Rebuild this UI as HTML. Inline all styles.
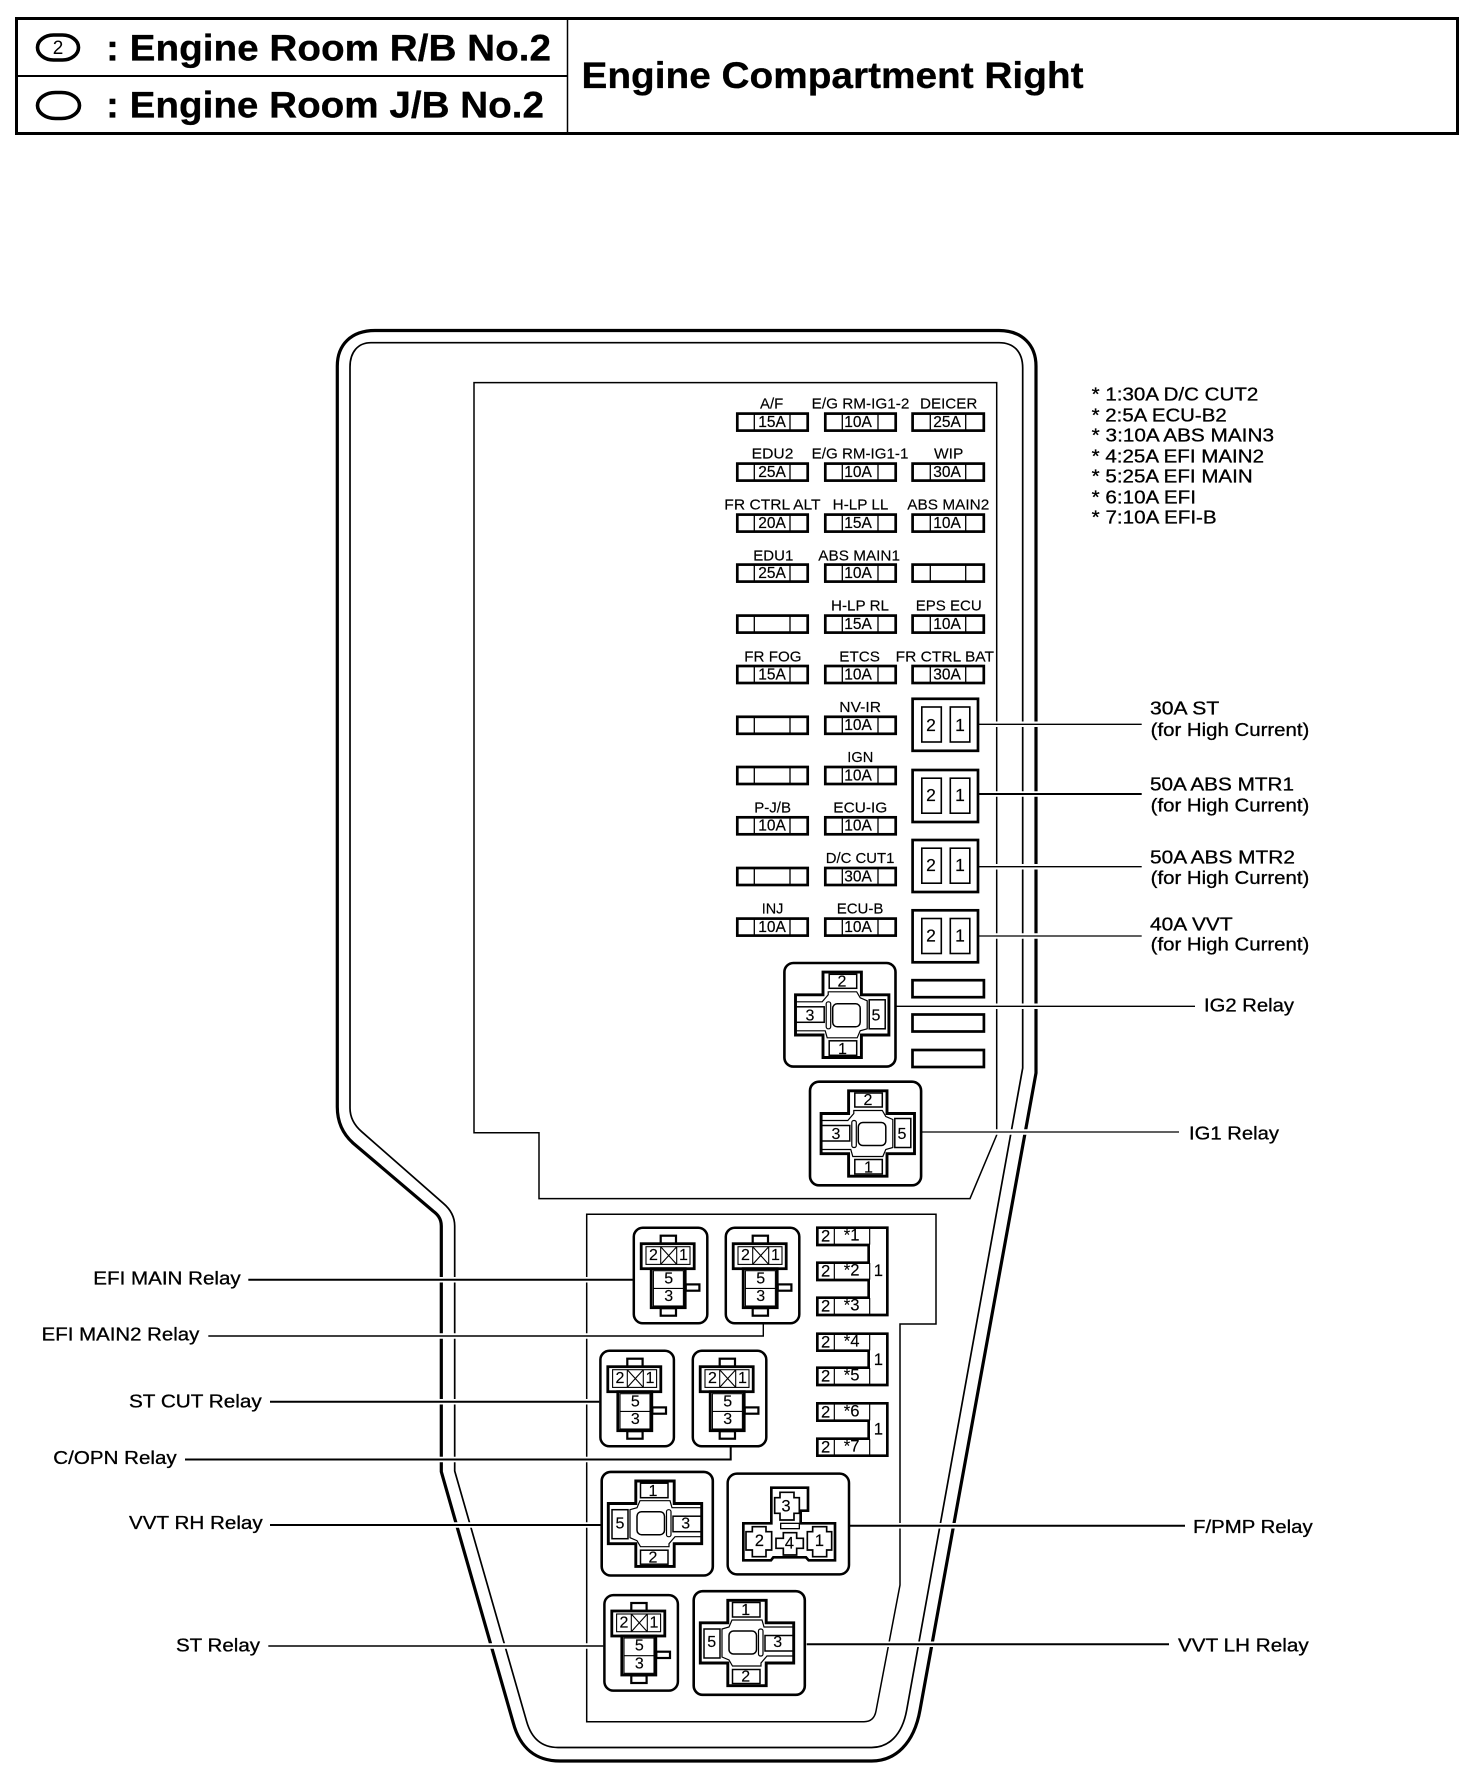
<!DOCTYPE html>
<html>
<head>
<meta charset="utf-8">
<style>
html,body{margin:0;padding:0;background:#fff}
svg{display:block}
text{font-family:"Liberation Sans",sans-serif;fill:#000}
.l{font-size:15px;stroke:#000;stroke-width:.15}
.v{font-size:15.5px;text-anchor:middle;stroke:#000;stroke-width:.2}
.d{font-size:16px;text-anchor:middle;stroke:#000;stroke-width:.15}
.e{font-size:17.5px;text-anchor:middle;stroke:#000;stroke-width:.15}
.b{font-size:18.5px;stroke:#000;stroke-width:.3}
.h{font-size:37.5px;font-weight:bold;stroke:#000;stroke-width:.3}
.z{font-size:50px;text-anchor:middle;stroke:#000;stroke-width:.4}
.s{fill:none;stroke:#000}
.w{fill:#fff;stroke:#000}
</style>
</head>
<body>
<svg width="1472" height="1782" viewBox="0 0 1472 1782" xmlns="http://www.w3.org/2000/svg">
<defs>
<g id="f">
<rect class="w" x="1.3" y="1.3" width="70.4" height="17" stroke-width="2.7"/>
<path class="s" d="M18.3 1V18.5M54 1V18.5" stroke-width="1.3"/>
</g>
<g id="f3">
<rect class="w" x="1.3" y="1.3" width="71.2" height="17" stroke-width="2.7"/>
<path class="s" d="M19 1V18.5M54.4 1V18.5" stroke-width="1.3"/>
</g>
<g id="hc">
<rect class="w" x="1.3" y="1.3" width="65.4" height="52" stroke-width="2.7"/>
<rect class="w" x="10.5" y="9.5" width="19.5" height="35" stroke-width="1.6"/>
<rect class="w" x="39" y="9.5" width="19.5" height="35" stroke-width="1.6"/>
</g>
<g id="sr">
<rect class="w" x="1.1" y="1.1" width="73.5" height="95.5" rx="9" stroke-width="2.5"/>
<rect class="w" x="28" y="9" width="15.3" height="8" stroke-width="2.2"/>
<rect class="w" x="28" y="81.5" width="15.3" height="7.5" stroke-width="2.2"/>
<rect class="w" x="53" y="57.7" width="13.7" height="6.3" stroke-width="2.2"/>
<rect class="w" x="8.5" y="17" width="53" height="25" stroke-width="2.8"/>
<rect class="w" x="18.5" y="42" width="34" height="39" stroke-width="2.8"/>
<rect class="w" x="13.3" y="20" width="44" height="17.7" stroke-width="1.1"/>
<path class="s" d="M28 20V37.7M44 20V37.7M28 20L44 37.7M44 20L28 37.7" stroke-width="1.1"/>
<rect class="w" x="20.7" y="44" width="30" height="35.3" stroke-width="1.1"/>
<path class="s" d="M20.7 61.7H50.7" stroke-width="1.1"/>
</g>
<g id="cr">
<rect class="w" x="-57.8" y="-51.8" width="111.1" height="103.6" rx="9" stroke-width="2.6"/>
<path class="w" d="M-19.2 -42.7H19.2V-20H46.7V20.2H19.2V42.7H-19.2V20.2H-46.7V-20H-19.2Z" stroke-width="2.9"/>
<path class="s" d="M-46 -13H-20L-14 -20V-23H14.5L18 -17L25 -14V14L18 16L15 23H-15L-17 16H-46" stroke-width="1.2"/>
<rect class="w" x="-13" y="-40.5" width="27.5" height="14" stroke-width="1.5"/>
<rect class="w" x="-13" y="26" width="27.5" height="14.5" stroke-width="1.5"/>
<rect class="w" x="-46" y="-8" width="28" height="15.5" stroke-width="1.5"/>
<rect class="w" x="27" y="-15" width="16" height="29" stroke-width="1.5"/>
<rect class="w" x="-16" y="-13" width="4.5" height="27" rx="2" stroke-width="1.2"/>
<rect class="w" x="-9.5" y="-11" width="27.5" height="23" rx="4.5" stroke-width="1.5"/>
</g>
</defs>

<!-- header -->
<rect x="16.5" y="18.5" width="1441" height="115" fill="none" stroke="#000" stroke-width="3"/>
<path d="M16 76H568" stroke="#000" stroke-width="2"/>
<path d="M567.5 19V133" stroke="#000" stroke-width="1.5"/>
<rect x="37.5" y="35" width="41" height="25" rx="16" ry="12.5" fill="none" stroke="#000" stroke-width="3.6"/>
<text x="58" y="54" font-size="19" text-anchor="middle">2</text>
<rect x="37.5" y="92.5" width="42" height="26" rx="18" ry="13" fill="none" stroke="#000" stroke-width="3.6"/>
<text class="h" x="106" y="60.5" textLength="445" lengthAdjust="spacingAndGlyphs">: Engine Room R/B No.2</text>
<text class="h" x="106" y="117.5" textLength="438" lengthAdjust="spacingAndGlyphs">: Engine Room J/B No.2</text>
<text class="h" x="581.5" y="88" textLength="502" lengthAdjust="spacingAndGlyphs">Engine Compartment Right</text>

<!-- chassis -->
<path class="s" stroke-width="3.2" d="M375 330.5H999C1022 330.5 1036 345 1036 366V1073L920 1710C914 1744 895 1761 871.7 1761H560C536 1761 520 1748 513.3 1723L441.3 1471.7V1226C441.3 1218 437 1214 433 1211L353 1143C343 1134 337.3 1122 337.3 1107V366C337.3 345 351 330.5 375 330.5Z"/>
<path class="s" stroke-width="1.7" d="M371 342.7H999C1014 342.7 1022.7 352 1022.7 368V1068L906.7 1710C902 1736 888 1747.5 871.7 1747.5H558C543 1747.5 532 1740 526.7 1721.7L454.7 1471V1226C454.7 1216 450 1209 443.3 1203.3L361.7 1131.7C354 1125 350 1117 350 1108V367C350 352 358 342.7 371 342.7Z"/>
<path class="s" stroke-width="1.5" d="M474 382.6H996.7V1135L970 1198.6H539V1132.7H474Z"/>
<path class="s" stroke-width="1.5" d="M586.7 1214.3H936V1324H900V1585L876 1711Q874 1721.7 864 1721.7H586.7Z"/>

<!-- fuses column 1 -->
<use href="#f" x="736" y="412.3"/><use href="#f" x="736" y="462.3"/><use href="#f" x="736" y="513.3"/><use href="#f" x="736" y="563.3"/><use href="#f" x="736" y="614.3"/><use href="#f" x="736" y="664.7"/><use href="#f" x="736" y="715.5"/><use href="#f" x="736" y="765.7"/><use href="#f" x="736" y="816"/><use href="#f" x="736" y="866.7"/><use href="#f" x="736" y="917.3"/>
<!-- fuses column 2 -->
<use href="#f" x="824" y="412.3"/><use href="#f" x="824" y="462.3"/><use href="#f" x="824" y="513.3"/><use href="#f" x="824" y="563.3"/><use href="#f" x="824" y="614.3"/><use href="#f" x="824" y="664.7"/><use href="#f" x="824" y="715.5"/><use href="#f" x="824" y="765.7"/><use href="#f" x="824" y="816"/><use href="#f" x="824" y="866.7"/><use href="#f" x="824" y="917.3"/>
<!-- fuses column 3 -->
<use href="#f3" x="911.3" y="412.3"/><use href="#f3" x="911.3" y="462.3"/><use href="#f3" x="911.3" y="513.3"/><use href="#f3" x="911.3" y="563.3"/><use href="#f3" x="911.3" y="614.3"/><use href="#f3" x="911.3" y="664.7"/>

<!-- fuse values -->
<text class="v" x="772" y="427">15A</text><text class="v" x="858" y="427">10A</text><text class="v" x="947" y="427">25A</text>
<text class="v" x="772" y="477">25A</text><text class="v" x="858" y="477">10A</text><text class="v" x="947" y="477">30A</text>
<text class="v" x="772" y="528">20A</text><text class="v" x="858" y="528">15A</text><text class="v" x="947" y="528">10A</text>
<text class="v" x="772" y="578">25A</text><text class="v" x="858" y="578">10A</text>
<text class="v" x="858" y="629">15A</text><text class="v" x="947" y="629">10A</text>
<text class="v" x="772" y="679.4">15A</text><text class="v" x="858" y="679.4">10A</text><text class="v" x="947" y="679.4">30A</text>
<text class="v" x="858" y="730.2">10A</text>
<text class="v" x="858" y="780.4">10A</text>
<text class="v" x="772" y="830.7">10A</text><text class="v" x="858" y="830.7">10A</text>
<text class="v" x="858" y="881.4">30A</text>
<text class="v" x="772" y="932">10A</text><text class="v" x="858" y="932">10A</text>

<!-- fuse labels -->
<text class="l" x="760" y="408.5" textLength="23.3" lengthAdjust="spacingAndGlyphs">A/F</text>
<text class="l" x="811.7" y="408.5" textLength="97.7" lengthAdjust="spacingAndGlyphs">E/G RM-IG1-2</text>
<text class="l" x="920" y="408.5" textLength="57.3" lengthAdjust="spacingAndGlyphs">DEICER</text>
<text class="l" x="751.7" y="458.5" textLength="41.7" lengthAdjust="spacingAndGlyphs">EDU2</text>
<text class="l" x="811.7" y="458.5" textLength="96.7" lengthAdjust="spacingAndGlyphs">E/G RM-IG1-1</text>
<text class="l" x="934" y="458.5" textLength="29.3" lengthAdjust="spacingAndGlyphs">WIP</text>
<text class="l" x="724.3" y="509.5" textLength="96.3" lengthAdjust="spacingAndGlyphs">FR CTRL ALT</text>
<text class="l" x="832.7" y="509.5" textLength="55.7" lengthAdjust="spacingAndGlyphs">H-LP LL</text>
<text class="l" x="907.3" y="509.5" textLength="82" lengthAdjust="spacingAndGlyphs">ABS MAIN2</text>
<text class="l" x="753.3" y="560.5" textLength="40" lengthAdjust="spacingAndGlyphs">EDU1</text>
<text class="l" x="818.3" y="560.5" textLength="81.7" lengthAdjust="spacingAndGlyphs">ABS MAIN1</text>
<text class="l" x="831" y="610.5" textLength="58" lengthAdjust="spacingAndGlyphs">H-LP RL</text>
<text class="l" x="915.7" y="610.5" textLength="66" lengthAdjust="spacingAndGlyphs">EPS ECU</text>
<text class="l" x="744.3" y="661.5" textLength="57.3" lengthAdjust="spacingAndGlyphs">FR FOG</text>
<text class="l" x="839.3" y="661.5" textLength="40.7" lengthAdjust="spacingAndGlyphs">ETCS</text>
<text class="l" x="895.7" y="661.5" textLength="98.3" lengthAdjust="spacingAndGlyphs">FR CTRL BAT</text>
<text class="l" x="839.3" y="712" textLength="41.7" lengthAdjust="spacingAndGlyphs">NV-IR</text>
<text class="l" x="847.3" y="762.2" textLength="26" lengthAdjust="spacingAndGlyphs">IGN</text>
<text class="l" x="754.3" y="812.5" textLength="36.7" lengthAdjust="spacingAndGlyphs">P-J/B</text>
<text class="l" x="833.3" y="812.5" textLength="54" lengthAdjust="spacingAndGlyphs">ECU-IG</text>
<text class="l" x="825.7" y="863" textLength="68.7" lengthAdjust="spacingAndGlyphs">D/C CUT1</text>
<text class="l" x="761.7" y="913.5" textLength="21.7" lengthAdjust="spacingAndGlyphs">INJ</text>
<text class="l" x="836.7" y="913.5" textLength="46.7" lengthAdjust="spacingAndGlyphs">ECU-B</text>

<!-- high current -->
<use href="#hc" x="911.3" y="697.5"/><use href="#hc" x="911.3" y="768.7"/><use href="#hc" x="911.3" y="838.7"/><use href="#hc" x="911.3" y="909"/>
<text class="e" x="931" y="731">2</text><text class="e" x="960" y="731">1</text>
<text class="e" x="931" y="801">2</text><text class="e" x="960" y="801">1</text>
<text class="e" x="931" y="871">2</text><text class="e" x="960" y="871">1</text>
<text class="e" x="931" y="941.5">2</text><text class="e" x="960" y="941.5">1</text>

<!-- empty slots -->
<rect class="w" x="912.5" y="980.2" width="71.4" height="17" stroke-width="2.7"/>
<rect class="w" x="912.5" y="1014.5" width="71.4" height="17" stroke-width="2.7"/>
<rect class="w" x="912.5" y="1050" width="71.4" height="17" stroke-width="2.7"/>

<!-- cross relays -->
<use href="#cr" transform="translate(842.2 1014.8)"/>
<text class="d" x="842" y="986.5">2</text><text class="d" x="842.5" y="1054">1</text><text class="d" x="810" y="1020.5">3</text><text class="d" x="876" y="1020.5">5</text>
<use href="#cr" transform="translate(867.8 1133.5)"/>
<text class="d" x="868" y="1105">2</text><text class="d" x="868.5" y="1172.7">1</text><text class="d" x="836" y="1139">3</text><text class="d" x="902" y="1139">5</text>
<use href="#cr" transform="translate(655 1523.7) rotate(180)"/>
<text class="d" x="653" y="1496">1</text><text class="d" x="653" y="1562.7">2</text><text class="d" x="620" y="1528.5">5</text><text class="d" x="685.7" y="1528.5">3</text>
<use href="#cr" transform="translate(747 1643) rotate(180)"/>
<text class="d" x="745.7" y="1615">1</text><text class="d" x="745.7" y="1681.7">2</text><text class="d" x="711.7" y="1647">5</text><text class="d" x="777.7" y="1647">3</text>

<!-- small relays -->
<use href="#sr" x="632.7" y="1226.7"/>
<text class="d" x="653.4" y="1260">2</text><text class="d" x="683.4" y="1260">1</text><text class="d" x="668.7" y="1283.4">5</text><text class="d" x="668.7" y="1301">3</text>
<use href="#sr" x="724.7" y="1226.7"/>
<text class="d" x="745.4" y="1260">2</text><text class="d" x="775.4" y="1260">1</text><text class="d" x="760.7" y="1283.4">5</text><text class="d" x="760.7" y="1301">3</text>
<use href="#sr" x="599.3" y="1349.7"/>
<text class="d" x="620" y="1383">2</text><text class="d" x="650" y="1383">1</text><text class="d" x="635.3" y="1406.4">5</text><text class="d" x="635.3" y="1424">3</text>
<use href="#sr" x="691.7" y="1349.7"/>
<text class="d" x="712.4" y="1383">2</text><text class="d" x="742.4" y="1383">1</text><text class="d" x="727.7" y="1406.4">5</text><text class="d" x="727.7" y="1424">3</text>
<use href="#sr" x="603.3" y="1594"/>
<text class="d" x="624" y="1627.3">2</text><text class="d" x="654" y="1627.3">1</text><text class="d" x="639.3" y="1650.7">5</text><text class="d" x="639.3" y="1668.3">3</text>

<!-- F/PMP relay -->
<g transform="translate(570 1460) scale(.33333)">
<rect class="w" x="473" y="41" width="364" height="302" rx="28" stroke-width="7.5"/>
<path class="w" stroke-width="8" d="M604 83H714V152H692V190H795V301H716L708 292H610L603 301H520V190H604Z"/>
<path class="w" stroke-width="5" d="M630 97H672V113H688V160H672V180H630V160H614V113H630Z"/>
<path class="w" stroke-width="5" d="M547 200H588V215H605V270H588V290H547V270H528V215H547Z"/>
<path class="w" stroke-width="5" d="M640 218H680V235H700V265H680V285H640V265H618V235H640Z"/>
<path class="w" stroke-width="5" d="M728 200H770V215H785V270H770V290H728V270H712V215H728Z"/>
<rect class="w" x="632" y="190" width="56" height="16" stroke-width="4"/>
<text class="z" x="648" y="155">3</text><text class="z" x="568" y="258">2</text><text class="z" x="658" y="265">4</text><text class="z" x="748" y="258">1</text>
</g>

<!-- fuse comb groups -->
<g transform="translate(570 1200) scale(.33333)">
<path class="w" stroke-width="8" d="M742 83H952V345H742V293H896V240H742V188H896V135H742Z"/>
<path class="s" stroke-width="3.5" d="M793 84V134M793 189V239M793 294V344M899 84V134M899 189V239M899 294V344"/>
<text class="z" x="767" y="125">2</text><text class="z" x="845" y="122">*1</text>
<text class="z" x="767" y="230">2</text><text class="z" x="845" y="227">*2</text>
<text class="z" x="767" y="335">2</text><text class="z" x="845" y="332">*3</text>
<text class="z" x="925" y="228">1</text>
<path class="w" stroke-width="8" d="M742 401H952V555H742V503H896V452H742Z"/>
<path class="s" stroke-width="3.5" d="M793 402V451M793 504V554M899 402V451M899 504V554"/>
<text class="z" x="767" y="442">2</text><text class="z" x="845" y="439">*4</text>
<text class="z" x="767" y="545">2</text><text class="z" x="845" y="542">*5</text>
<text class="z" x="925" y="495">1</text>
<path class="w" stroke-width="8" d="M742 610H952V767H742V716H896V662H742Z"/>
<path class="s" stroke-width="3.5" d="M793 611V661M793 717V766M899 611V661M899 717V766"/>
<text class="z" x="767" y="652">2</text><text class="z" x="845" y="649">*6</text>
<text class="z" x="767" y="758">2</text><text class="z" x="845" y="755">*7</text>
<text class="z" x="925" y="703">1</text>
</g>

<!-- leader halos -->
<path fill="none" stroke="#fff" stroke-width="5.5" d="M981 724.3H1141M981 794H1141M981 866.7H1141M981 936H1141M898 1006.3H1195M923.5 1132H1179M851.5 1525.7H1185M808 1644.3H1169M248.3 1279.7H631M208.3 1336H763.3V1326M270 1401.7H598M185 1459.5H730.7V1449M270 1525H599.5M268.3 1646H602"/>
<!-- leaders -->
<path class="s" stroke-width="1.3" d="M979 724.3H1141.7M979 866.7H1141.7M979 936H1141.7M896 1006.3H1195M922 1132H1179"/>
<path class="s" stroke-width="2" d="M979 794H1141.7M850 1525.7H1185M806.7 1644.3H1169M248.3 1279.7H632.7M270 1401.7H599.3M185 1459.5H730.7V1447M270 1525H600.7"/>
<path class="s" stroke-width="1.4" d="M208.3 1336H763.3V1324M268.3 1646H603.3"/>

<!-- right labels -->
<text class="b" x="1150" y="714.7" textLength="69.3" lengthAdjust="spacingAndGlyphs">30A ST</text>
<text class="b" x="1150.7" y="736" textLength="158.6" lengthAdjust="spacingAndGlyphs">(for High Current)</text>
<text class="b" x="1150" y="790.7" textLength="144" lengthAdjust="spacingAndGlyphs">50A ABS MTR1</text>
<text class="b" x="1150.7" y="811.7" textLength="158.6" lengthAdjust="spacingAndGlyphs">(for High Current)</text>
<text class="b" x="1150" y="863.3" textLength="145" lengthAdjust="spacingAndGlyphs">50A ABS MTR2</text>
<text class="b" x="1150.7" y="884" textLength="158.6" lengthAdjust="spacingAndGlyphs">(for High Current)</text>
<text class="b" x="1150" y="930.7" textLength="82.7" lengthAdjust="spacingAndGlyphs">40A VVT</text>
<text class="b" x="1150.7" y="950.7" textLength="158.6" lengthAdjust="spacingAndGlyphs">(for High Current)</text>
<text class="b" x="1204" y="1011.5" textLength="90" lengthAdjust="spacingAndGlyphs">IG2 Relay</text>
<text class="b" x="1189" y="1139.5" textLength="90" lengthAdjust="spacingAndGlyphs">IG1 Relay</text>
<text class="b" x="1193" y="1533" textLength="119.7" lengthAdjust="spacingAndGlyphs">F/PMP Relay</text>
<text class="b" x="1178" y="1651.5" textLength="130.7" lengthAdjust="spacingAndGlyphs">VVT LH Relay</text>

<!-- left labels -->
<text class="b" x="93.3" y="1284.3" textLength="147.4" lengthAdjust="spacingAndGlyphs">EFI MAIN Relay</text>
<text class="b" x="41.7" y="1340.7" textLength="157.6" lengthAdjust="spacingAndGlyphs">EFI MAIN2 Relay</text>
<text class="b" x="129" y="1407.3" textLength="132.7" lengthAdjust="spacingAndGlyphs">ST CUT Relay</text>
<text class="b" x="53.3" y="1464" textLength="123.4" lengthAdjust="spacingAndGlyphs">C/OPN Relay</text>
<text class="b" x="129" y="1529" textLength="133.7" lengthAdjust="spacingAndGlyphs">VVT RH Relay</text>
<text class="b" x="176" y="1651.7" textLength="84" lengthAdjust="spacingAndGlyphs">ST Relay</text>

<!-- fuse notes -->
<text class="b" x="1091.7" y="400.7" textLength="166.6" lengthAdjust="spacingAndGlyphs">* 1:30A D/C CUT2</text>
<text class="b" x="1091.7" y="421.7" textLength="135" lengthAdjust="spacingAndGlyphs">* 2:5A ECU-B2</text>
<text class="b" x="1091.7" y="441.7" textLength="182.3" lengthAdjust="spacingAndGlyphs">* 3:10A ABS MAIN3</text>
<text class="b" x="1091.7" y="462.7" textLength="172.3" lengthAdjust="spacingAndGlyphs">* 4:25A EFI MAIN2</text>
<text class="b" x="1091.7" y="482.7" textLength="161" lengthAdjust="spacingAndGlyphs">* 5:25A EFI MAIN</text>
<text class="b" x="1091.7" y="503.3" textLength="104.3" lengthAdjust="spacingAndGlyphs">* 6:10A EFI</text>
<text class="b" x="1091.7" y="523.3" textLength="125" lengthAdjust="spacingAndGlyphs">* 7:10A EFI-B</text>
</svg>
</body>
</html>
